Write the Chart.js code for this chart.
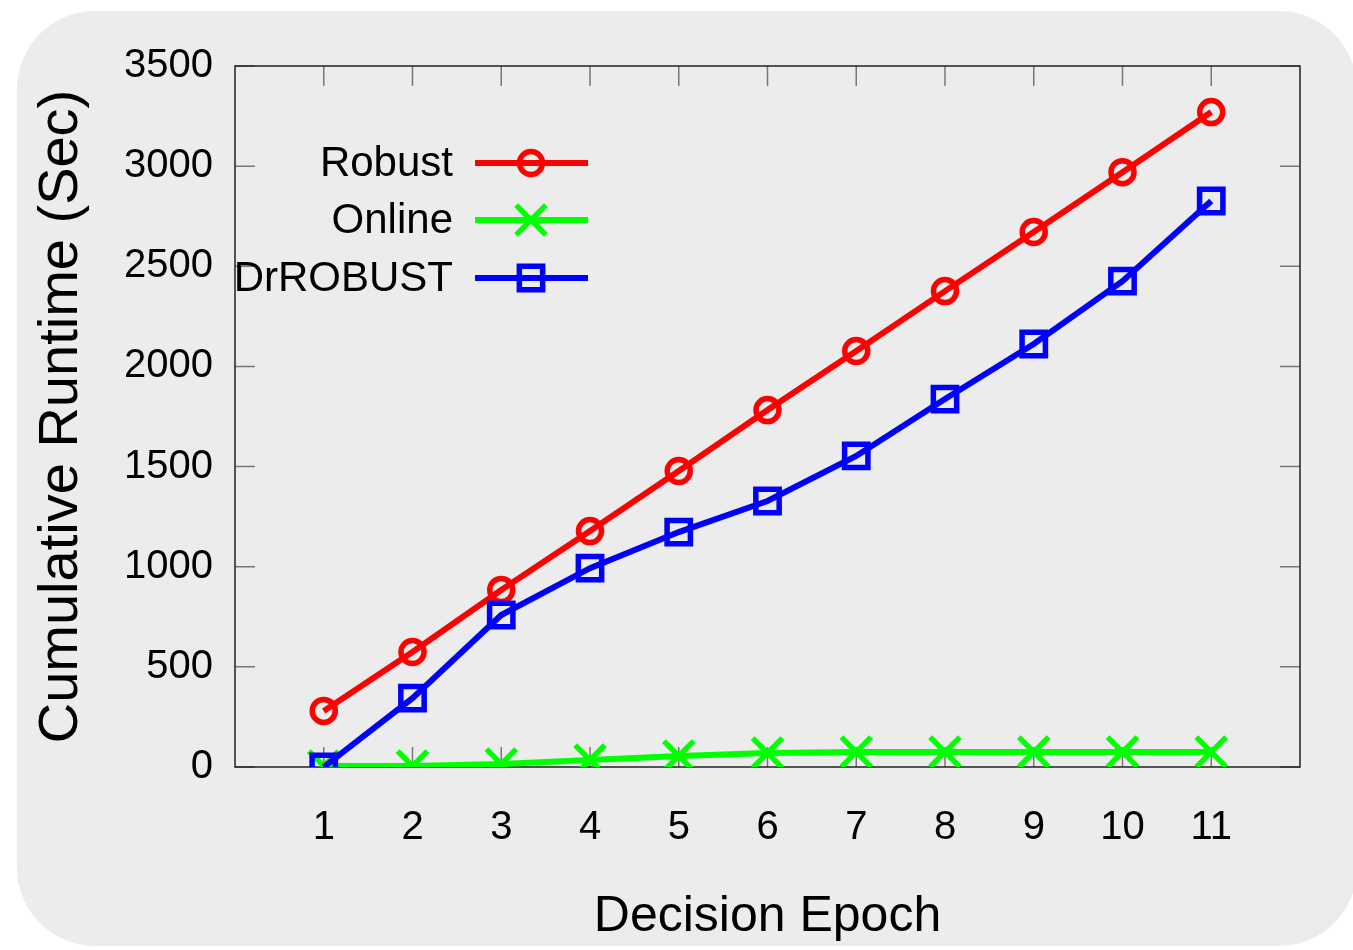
<!DOCTYPE html>
<html>
<head>
<meta charset="utf-8">
<script src="https://cdn.jsdelivr.net/npm/chart.js@4/dist/chart.umd.min.js"></script>
<style>
  body { margin: 0; background: #ffffff; }
  #wrap { width: 1353px; height: 950px; }
</style>
</head>
<body>
<div id="wrap"><canvas id="runtime-chart" width="1353" height="950"></canvas></div>
<script>
const epochs = [1, 2, 3, 4, 5, 6, 7, 8, 9, 10, 11];
const robust = [280, 574, 884, 1178, 1478, 1782, 2077, 2376, 2671, 2970, 3270];
const online = [5, 5, 15, 35, 55, 70, 75, 75, 75, 75, 75];
const drRobust = [0, 344, 759, 993, 1173, 1328, 1553, 1837, 2112, 2426, 2826];
const yTicks = [0, 500, 1000, 1500, 2000, 2500, 3000, 3500];
const seriesNames = ["Robust", "Online", "DrROBUST"];

const FONT = "'Liberation Sans', Arial, sans-serif";

function toPoints(values) {
  return epochs.map((e, i) => ({ x: e, y: values[i] }));
}

// rounded grey panel, plot box, inward tick marks and the legend
const decorations = {
  id: "decorations",
  beforeDraw(chart) {
    const ctx = chart.ctx;
    ctx.save();
    ctx.fillStyle = "#ffffff";
    ctx.fillRect(0, 0, chart.width, chart.height);
    ctx.fillStyle = "#ececec";
    ctx.beginPath();
    ctx.roundRect(17, 11, 1340, 935, 78);
    ctx.fill();
    ctx.restore();
  },
  beforeDatasetsDraw(chart) {
    const { ctx, chartArea: a, scales } = chart;
    ctx.save();
    ctx.strokeStyle = "#777777";
    ctx.lineWidth = 1.5;
    ctx.beginPath();
    yTicks.forEach((v) => {
      const y = scales.y.getPixelForValue(v);
      ctx.moveTo(a.left, y);
      ctx.lineTo(a.left + 20, y);
      ctx.moveTo(a.right, y);
      ctx.lineTo(a.right - 20, y);
    });
    epochs.forEach((v) => {
      const x = scales.x.getPixelForValue(v);
      ctx.moveTo(x, a.bottom);
      ctx.lineTo(x, a.bottom - 20);
      ctx.moveTo(x, a.top);
      ctx.lineTo(x, a.top + 20);
    });
    ctx.stroke();
    ctx.strokeStyle = "#222222";
    ctx.lineWidth = 1.5;
    ctx.strokeRect(a.left, a.top, a.right - a.left, a.bottom - a.top);
    ctx.restore();
  },
  afterDatasetsDraw(chart) {
    const ctx = chart.ctx;
    const rows = [163, 220, 278];
    ctx.save();
    chart.data.datasets.forEach((ds, i) => {
      const y = rows[i];
      ctx.fillStyle = "#000000";
      ctx.font = "42px " + FONT;
      ctx.textAlign = "right";
      ctx.textBaseline = "middle";
      ctx.fillText(ds.label, 453, y + 1);
      ctx.strokeStyle = ds.borderColor;
      ctx.lineWidth = ds.borderWidth;
      ctx.beginPath();
      ctx.moveTo(475, y);
      ctx.lineTo(588, y);
      ctx.stroke();
      ctx.fillStyle = "rgba(0,0,0,0)";
      ctx.lineWidth = ds.pointBorderWidth;
      Chart.helpers.drawPoint(ctx, {
        pointStyle: ds.pointStyle,
        radius: ds.pointRadius,
        borderWidth: ds.pointBorderWidth,
        rotation: 0,
      }, 531, y);
    });
    ctx.restore();
  },
};

const ctx = document.getElementById("runtime-chart").getContext("2d");
const chart = new Chart(ctx, {
  type: "line",
  data: {
    datasets: [
      {
        label: seriesNames[0],
        data: toPoints(robust),
        borderColor: "#ff0000",
        backgroundColor: "rgba(0,0,0,0)",
        borderWidth: 6,
        pointStyle: "circle",
        pointRadius: 11.5,
        pointBorderWidth: 5.5,
        pointBorderColor: "#ff0000",
        pointBackgroundColor: "rgba(0,0,0,0)",
        order: 2,
      },
      {
        label: seriesNames[1],
        data: toPoints(online),
        borderColor: "#00ff00",
        backgroundColor: "rgba(0,0,0,0)",
        borderWidth: 6,
        pointStyle: "crossRot",
        pointRadius: 21,
        pointBorderWidth: 5.5,
        pointBorderColor: "#00ff00",
        order: 1,
      },
      {
        label: seriesNames[2],
        data: toPoints(drRobust),
        borderColor: "#0000ff",
        backgroundColor: "rgba(0,0,0,0)",
        borderWidth: 6,
        pointStyle: "rect",
        pointRadius: 16.5,
        pointBorderWidth: 5.5,
        pointBorderColor: "#0000ff",
        pointBackgroundColor: "rgba(0,0,0,0)",
        order: 0,
      },
    ],
  },
  options: {
    responsive: false,
    animation: false,
    layout: {
      padding: { left: 0, top: 66, right: 53, bottom: 0 },
    },
    scales: {
      x: {
        type: "linear",
        min: 0,
        max: 12,
        afterFit: (scale) => { scale.height = 183; },
        grid: { display: false, drawTicks: false },
        border: { display: false },
        ticks: {
          stepSize: 1,
          autoSkip: false,
          maxRotation: 0,
          padding: 37,
          color: "#000000",
          font: { family: FONT, size: 40 },
          callback: (v) => (v >= 1 && v <= 11 ? String(v) : ""),
        },
        title: {
          display: true,
          text: "Decision Epoch",
          color: "#000000",
          font: { family: FONT, size: 50 },
          padding: { top: 0, bottom: 3 },
        },
      },
      y: {
        min: 0,
        max: 3500,
        afterFit: (scale) => { scale.width = 235; },
        grid: { display: false, drawTicks: false },
        border: { display: false },
        ticks: {
          stepSize: 500,
          padding: 22,
          color: "#000000",
          font: { family: FONT, size: 40 },
          callback: (v) => String(v),
        },
        title: {
          display: true,
          text: "Cumulative Runtime (Sec)",
          color: "#000000",
          font: { family: FONT, size: 56 },
          padding: { top: 28, bottom: 0 },
        },
      },
    },
    plugins: {
      legend: { display: false },
      tooltip: { enabled: false },
    },
  },
  plugins: [decorations],
});
</script>
</body>
</html>
